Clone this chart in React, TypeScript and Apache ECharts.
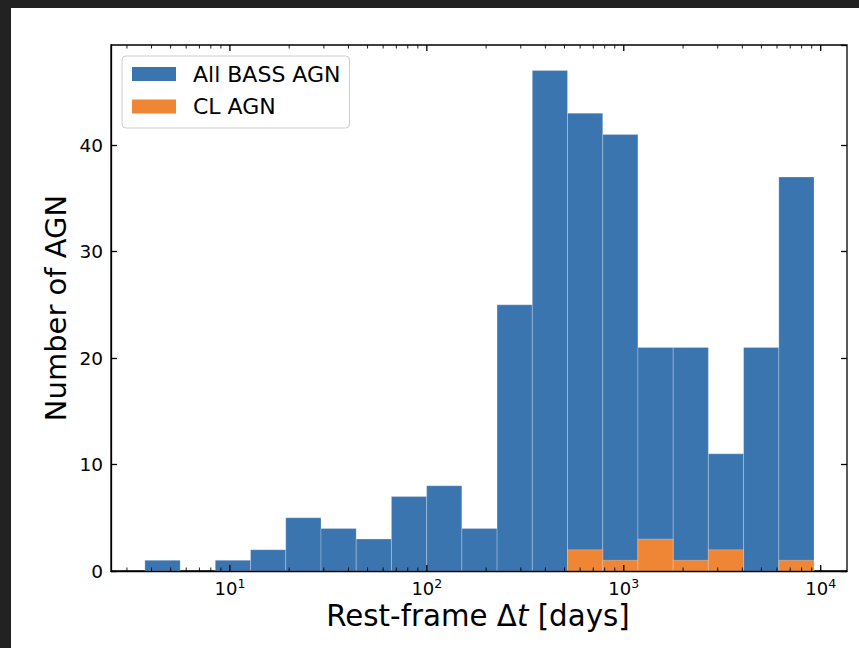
import React, { useEffect, useRef } from 'react';
import * as echarts from 'echarts';

// Histogram bin edges (days), log-spaced
const binEdges = [3.70, 5.59, 8.43, 12.73, 19.21, 29.01, 43.78, 66.10, 99.77, 150.6, 227.3, 343.2, 518.0, 782.0, 1180, 1782, 2689, 4060, 6129, 9250];
const allBassCounts = [1, 0, 1, 2, 5, 4, 3, 7, 8, 4, 25, 47, 43, 41, 21, 21, 11, 21, 37];
const clAgnCounts = [0, 0, 0, 0, 0, 0, 0, 0, 0, 0, 0, 0, 2, 1, 3, 1, 2, 0, 1];

const xMajorTicks = [10, 100, 1000, 10000];
const xTickExponents = ['1', '2', '3', '4'];
const xMinorTicks = [3, 4, 5, 6, 7, 8, 9, 20, 30, 40, 50, 60, 70, 80, 90, 200, 300, 400, 500, 600, 700, 800, 900, 2000, 3000, 4000, 5000, 6000, 7000, 8000, 9000];
const seriesNames = ['All BASS AGN', 'CL AGN'];

const X_MIN = 2.49;
const X_MAX = 13600;
const Y_MAX = 49.4;
const FONT = 'DejaVu Sans';

const toBins = (counts: number[]) => counts.map((c, i) => [binEdges[i], binEdges[i + 1], c]);

const renderBar = (params: any, api: any) => {
  const lo = api.value(0);
  const hi = api.value(1);
  const c = api.value(2);
  if (!c) return { type: 'group', children: [] };
  const p0 = api.coord([lo, 0]);
  const p1 = api.coord([hi, c]);
  return {
    type: 'rect',
    shape: { x: p0[0], y: p1[1], width: p1[0] - p0[0], height: p0[1] - p1[1] },
    style: { fill: api.visual('color'), stroke: 'rgba(255,255,255,0.3)', lineWidth: 0.8 },
  };
};

const renderTick = (params: any, api: any) => {
  const v = api.value(0);
  const major = api.value(1) === 1;
  const len = major ? 6 : 3.5;
  const lw = major ? 1.3 : 0.9;
  const b = api.coord([v, 0]);
  const t = api.coord([v, Y_MAX]);
  return {
    type: 'group',
    children: [
      { type: 'line', shape: { x1: b[0], y1: b[1], x2: b[0], y2: b[1] - len }, style: { stroke: '#000', lineWidth: lw } },
      { type: 'line', shape: { x1: t[0], y1: t[1], x2: t[0], y2: t[1] + len }, style: { stroke: '#000', lineWidth: lw } },
    ],
  };
};

const renderXLabel = (params: any, api: any) => {
  const v = api.value(0);
  const p = api.coord([v, 0]);
  const baseSize = 18;
  const supSize = 12.5;
  const baseW = 2 * 0.636 * baseSize;
  const supW = 0.636 * supSize;
  const left = p[0] - (baseW + supW) / 2;
  return {
    type: 'group',
    children: [
      {
        type: 'text',
        x: left,
        y: p[1] + 17,
        style: { text: '10', fontSize: baseSize, fontFamily: FONT, fill: '#000', align: 'left', verticalAlign: 'middle' },
      },
      {
        type: 'text',
        x: left + baseW,
        y: p[1] + 12,
        style: { text: xTickExponents[params.dataIndex], fontSize: supSize, fontFamily: FONT, fill: '#000', align: 'left', verticalAlign: 'middle' },
      },
    ],
  };
};

export default function App() {
  const ref = useRef<HTMLDivElement>(null);

  useEffect(() => {
    if (!ref.current) return;
    const chart = echarts.init(ref.current, undefined, { renderer: 'svg' });
    const tickData = [
      ...xMajorTicks.map((v) => [v, 1]),
      ...xMinorTicks.map((v) => [v, 0]),
    ];
    const option: any = {
      animation: false,
      backgroundColor: '#ffffff',
      grid: {
        left: 100,
        top: 37,
        width: 736,
        height: 526,
        show: true,
        borderColor: '#000',
        borderWidth: 1.3,
        backgroundColor: 'transparent',
      },
      legend: {
        orient: 'vertical',
        left: 111,
        top: 48,
        data: seriesNames,
        icon: 'rect',
        itemWidth: 44,
        itemHeight: 14,
        itemGap: 8.5,
        padding: [6, 9, 9.5, 10],
        backgroundColor: 'rgba(255,255,255,0.8)',
        borderColor: '#cccccc',
        borderWidth: 1,
        borderRadius: 4,
        selectedMode: false,
        itemStyle: { borderWidth: 0 },
        textStyle: { fontFamily: FONT, fontSize: 22, color: '#000', lineHeight: 24, padding: [0, 0, 0, 12] },
      },
      xAxis: {
        type: 'log',
        logBase: 10,
        min: X_MIN,
        max: X_MAX,
        z: 10,
        axisLine: { show: true, lineStyle: { color: '#000', width: 1.3 } },
        axisTick: { show: false },
        axisLabel: { show: false },
        splitLine: { show: false },
        minorTick: { show: false },
      },
      yAxis: [
        {
          type: 'value',
          min: 0,
          max: Y_MAX,
          interval: 10,
          z: 10,
          axisLine: { show: true, lineStyle: { color: '#000', width: 1.3 } },
          axisTick: { show: true, inside: true, length: 6, lineStyle: { color: '#000', width: 1.3 } },
          axisLabel: { show: true, showMaxLabel: false, margin: 8, fontFamily: FONT, fontSize: 18.5, color: '#000' },
          splitLine: { show: false },
        },
        {
          type: 'value',
          position: 'right',
          min: 0,
          max: Y_MAX,
          interval: 10,
          z: 10,
          axisLine: { show: false },
          axisTick: { show: true, inside: true, length: 6, lineStyle: { color: '#000', width: 1.3 } },
          axisLabel: { show: false },
          splitLine: { show: false },
        },
      ],
      series: [
        {
          name: seriesNames[0],
          type: 'custom',
          renderItem: renderBar,
          data: toBins(allBassCounts),
          encode: { x: [0, 1], y: 2 },
          itemStyle: { color: '#3b75af' },
          z: 2,
        },
        {
          name: seriesNames[1],
          type: 'custom',
          renderItem: renderBar,
          data: toBins(clAgnCounts),
          encode: { x: [0, 1], y: 2 },
          itemStyle: { color: '#ef8636' },
          z: 3,
        },
        {
          name: 'ticks',
          type: 'custom',
          renderItem: renderTick,
          data: tickData,
          encode: { x: 0, y: 1 },
          silent: true,
          clip: false,
          z: 10,
        },
        {
          name: 'xlabels',
          type: 'custom',
          renderItem: renderXLabel,
          data: xMajorTicks.map((v) => [v, 0]),
          encode: { x: 0, y: 1 },
          silent: true,
          clip: false,
          z: 10,
        },
      ],
      graphic: [
        {
          type: 'text',
          x: 467,
          y: 608,
          style: {
            text: 'Rest-frame Δ{it|t} [days]',
            fontSize: 29.3,
            fontFamily: FONT,
            fill: '#000',
            align: 'center',
            verticalAlign: 'middle',
            rich: { it: { fontStyle: 'italic', fontSize: 29.3, fontFamily: FONT, fill: '#000' } },
          },
        },
        {
          type: 'text',
          x: 45,
          y: 300,
          rotation: Math.PI / 2,
          style: {
            text: 'Number of AGN',
            fontSize: 29,
            fontFamily: FONT,
            fill: '#000',
            align: 'center',
            verticalAlign: 'middle',
          },
        },
      ],
    };
    chart.setOption(option);
    return () => chart.dispose();
  }, []);

  return (
    <div style={{ position: 'absolute', left: 0, top: 0, width: 859, height: 648, background: '#222222' }}>
      <div ref={ref} style={{ position: 'absolute', left: 11, top: 8, width: 848, height: 640, background: '#ffffff' }} />
    </div>
  );
}
